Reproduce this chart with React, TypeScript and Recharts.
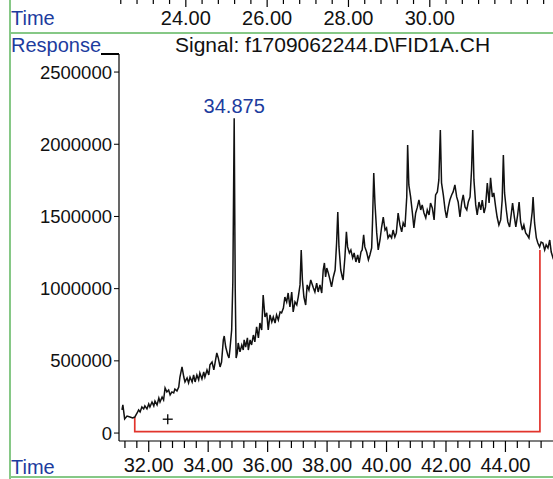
import { ComposedChart, LineChart, Line, XAxis, YAxis, ReferenceDot } from 'recharts';

// retention time (min) and detector response
const times = [
  31.10, 31.13, 31.19, 31.27, 31.37, 31.46, 31.53, 31.61, 31.66, 31.71, 31.77, 31.83, 31.87, 31.94,
  32.00, 32.04, 32.11, 32.17, 32.21, 32.28, 32.34, 32.38, 32.45, 32.50, 32.55, 32.61, 32.67, 32.72,
  32.78, 32.84, 32.88, 32.95, 33.01, 33.05, 33.12, 33.18, 33.22, 33.29, 33.34, 33.39, 33.46, 33.51,
  33.56, 33.62, 33.68, 33.72, 33.79, 33.85, 33.89, 33.96, 34.02, 34.06, 34.13, 34.19, 34.23, 34.29,
  34.34, 34.40, 34.45, 34.51, 34.54, 34.59, 34.66, 34.70, 34.73, 34.79, 34.83, 34.875, 34.91, 34.94,
  34.98, 35.01, 35.07, 35.13, 35.18, 35.21, 35.26, 35.32, 35.35, 35.41, 35.46, 35.52, 35.57, 35.63,
  35.69, 35.74, 35.80, 35.85, 35.91, 35.97, 36.02, 36.08, 36.14, 36.19, 36.25, 36.30, 36.36, 36.42,
  36.47, 36.53, 36.58, 36.64, 36.69, 36.75, 36.81, 36.86, 36.92, 36.98, 37.03, 37.09, 37.13, 37.17,
  37.22, 37.28, 37.33, 37.39, 37.45, 37.54, 37.59, 37.65, 37.70, 37.76, 37.82, 37.87, 37.91, 37.95,
  37.99, 38.04, 38.10, 38.15, 38.21, 38.27, 38.32, 38.36, 38.40, 38.46, 38.51, 38.54, 38.60, 38.65,
  38.69, 38.75, 38.80, 38.86, 38.91, 38.97, 39.03, 39.08, 39.14, 39.18, 39.23, 39.27, 39.33, 39.39,
  39.44, 39.50, 39.53, 39.57, 39.61, 39.67, 39.72, 39.78, 39.83, 39.89, 39.95, 40.00, 40.05, 40.11,
  40.17, 40.22, 40.28, 40.33, 40.39, 40.45, 40.51, 40.56, 40.62, 40.68, 40.71, 40.75, 40.81, 40.87,
  40.92, 40.98, 41.03, 41.09, 41.15, 41.20, 41.26, 41.32, 41.37, 41.43, 41.48, 41.54, 41.60, 41.65,
  41.71, 41.76, 41.81, 41.85, 41.91, 41.97, 42.02, 42.08, 42.13, 42.19, 42.24, 42.30, 42.36, 42.41,
  42.47, 42.53, 42.58, 42.64, 42.70, 42.75, 42.81, 42.86, 42.90, 42.94, 43.00, 43.05, 43.11, 43.17,
  43.22, 43.28, 43.33, 43.39, 43.45, 43.50, 43.56, 43.61, 43.67, 43.72, 43.78, 43.84, 43.89, 43.93,
  43.97, 44.03, 44.08, 44.14, 44.20, 44.24, 44.30, 44.35, 44.41, 44.46, 44.51, 44.57, 44.62, 44.68,
  44.73, 44.79, 44.85, 44.90, 44.93, 44.98, 45.04, 45.09, 45.15, 45.20, 45.26, 45.32, 45.37, 45.43,
  45.49, 45.54, 45.60, 45.65,
];
const responses = [
  160000, 195000, 98000, 118000, 111000, 105000, 111000, 139000, 160000, 146000, 181000, 167000, 188000, 167000,
  202000, 181000, 215000, 188000, 222000, 195000, 243000, 215000, 250000, 229000, 312000, 285000, 298000, 264000,
  285000, 278000, 305000, 292000, 319000, 388000, 458000, 388000, 354000, 382000, 347000, 388000, 354000, 402000,
  354000, 402000, 368000, 416000, 375000, 423000, 388000, 437000, 402000, 472000, 492000, 437000, 485000, 555000,
  520000, 458000, 492000, 645000, 672000, 596000, 541000, 520000, 575000, 714000, 1050000, 2180000, 1000000, 520000,
  555000, 624000, 562000, 610000, 575000, 645000, 596000, 659000, 575000, 645000, 610000, 679000, 631000, 735000,
  659000, 762000, 714000, 956000, 804000, 832000, 714000, 818000, 769000, 804000, 762000, 818000, 783000, 839000,
  832000, 866000, 942000, 908000, 970000, 873000, 977000, 839000, 908000, 887000, 942000, 1026000, 1268000, 1060000,
  942000, 887000, 1026000, 991000, 1060000, 1005000, 977000, 1039000, 977000, 1026000, 970000, 1129000, 1178000, 1081000,
  1143000, 1109000, 1060000, 1012000, 1081000, 1129000, 1316000, 1531000, 1289000, 1129000, 1081000, 1060000, 1219000, 1393000,
  1289000, 1247000, 1268000, 1213000, 1247000, 1185000, 1233000, 1178000, 1254000, 1268000, 1372000, 1289000, 1254000, 1199000,
  1233000, 1282000, 1476000, 1801000, 1593000, 1386000, 1268000, 1337000, 1420000, 1496000, 1406000, 1420000, 1351000, 1372000,
  1351000, 1406000, 1358000, 1386000, 1524000, 1441000, 1393000, 1455000, 1427000, 1635000, 1995000, 1718000, 1635000, 1524000,
  1420000, 1524000, 1559000, 1614000, 1545000, 1580000, 1524000, 1490000, 1545000, 1510000, 1593000, 1559000, 1476000, 1649000,
  1670000, 1753000, 2099000, 1732000, 1649000, 1545000, 1490000, 1566000, 1614000, 1649000, 1670000, 1718000, 1635000, 1600000,
  1496000, 1600000, 1649000, 1566000, 1545000, 1600000, 1635000, 1822000, 2099000, 1753000, 1580000, 1510000, 1600000, 1545000,
  1614000, 1524000, 1566000, 1732000, 1593000, 1767000, 1635000, 1663000, 1566000, 1496000, 1441000, 1476000, 1614000, 1926000,
  1663000, 1545000, 1462000, 1427000, 1524000, 1593000, 1496000, 1427000, 1510000, 1600000, 1462000, 1406000, 1441000, 1386000,
  1372000, 1351000, 1441000, 1531000, 1635000, 1455000, 1351000, 1316000, 1289000, 1323000, 1316000, 1268000, 1303000, 1282000,
  1337000, 1254000, 1213000, 1230000,
];

// integration baseline (red)
const baselineTimes = [31.53, 31.53, 45.16, 45.16];
const baselineResponses = [111000, 10000, 10000, 1268000];

const peakTime = 34.875;
const peakResponse = 2180000;
const peakLabel = '34.875';
const markerTime = 32.64;
const markerResponse = 96000;

const yTicks = [0, 500000, 1000000, 1500000, 2000000, 2500000];
const xMajorTicks = [32, 34, 36, 38, 40, 42, 44];
const xTicks = [
  31.2, 31.6, 32, 32.4, 32.8, 33.2, 33.6, 34, 34.4, 34.8, 35.2, 35.6, 36, 36.4, 36.8, 37.2, 37.6, 38,
  38.4, 38.8, 39.2, 39.6, 40, 40.4, 40.8, 41.2, 41.6, 42, 42.4, 42.8, 43.2, 43.6, 44, 44.4, 44.8, 45.2,
];
// the panel above (cut off)
const topMajorTicks = [24, 26, 28, 30];
const topTicks = [
  22.4, 22.8, 23.2, 23.6, 24, 24.4, 24.8, 25.2, 25.6, 26, 26.4, 26.8, 27.2, 27.6, 28, 28.4, 28.8,
  29.2, 29.6, 30, 30.4, 30.8, 31.2, 31.6, 32, 32.4, 32.8,
];

const signal = times.map((t, i) => ({ time: t, response: responses[i] }));
const baseline = baselineTimes.map((t, i) => ({ time: t, response: baselineResponses[i] }));

const FONT = '"Liberation Sans", Arial, sans-serif';
const BLUE = '#1d3c9e';
const GREEN = '#86c886';

const isMajor = (list: number[], v: number) => list.some(m => Math.abs(m - v) < 1e-6);

const BottomTick = (props: any) => {
  const { x, y, payload } = props;
  const major = isMajor(xMajorTicks, payload.value);
  return (
    <g>
      <line x1={x} x2={x} y1={y} y2={y + (major ? 11 : 7)} stroke="#000" strokeWidth={1.2} />
      {major && (
        <text x={x} y={y + 31} textAnchor="middle" fontSize={20} fill="#111" fontFamily={FONT}>
          {payload.value.toFixed(2)}
        </text>
      )}
    </g>
  );
};

const TopTick = (props: any) => {
  const { x, y, payload } = props;
  const major = isMajor(topMajorTicks, payload.value);
  return (
    <g>
      <line x1={x} x2={x} y1={y} y2={y + (major ? 7 : 4)} stroke="#000" strokeWidth={1.2} />
      {major && (
        <text x={x} y={y + 25} textAnchor="middle" fontSize={20} fill="#111" fontFamily={FONT}>
          {payload.value.toFixed(2)}
        </text>
      )}
    </g>
  );
};

const Plus = (props: any) => {
  const { cx, cy } = props;
  return (
    <g stroke="#000" strokeWidth={1.3}>
      <line x1={cx - 5} x2={cx + 5} y1={cy} y2={cy} />
      <line x1={cx} x2={cx} y1={cy - 5} y2={cy + 5} />
    </g>
  );
};

const label = (text: string, left: number, top: number, size: number, color: string) => (
  <div
    style={{
      position: 'absolute', left, top, fontSize: size, lineHeight: `${size}px`,
      color, fontFamily: FONT, whiteSpace: 'nowrap',
    }}
  >
    {text}
  </div>
);

export default function App() {
  return (
    <div style={{ position: 'absolute', left: 0, top: 0, width: 553, height: 479, overflow: 'hidden', background: '#fff' }}>
      {/* axis of the panel above, only its bottom edge shows */}
      <div style={{ position: 'absolute', left: 0, top: -20 }}>
        <LineChart width={553} height={60} data={[]} margin={{ top: 0, right: 0, bottom: 0, left: 0 }}>
          <XAxis
            xAxisId="top"
            type="number"
            dataKey="time"
            domain={[19.43, 33.03]}
            allowDataOverflow
            ticks={topTicks}
            interval={0}
            height={40}
            axisLine={false}
            tickLine={false}
            tickSize={0}
            tickMargin={0}
            tick={<TopTick />}
          />
        </LineChart>
      </div>

      <div style={{ position: 'absolute', left: 0, top: 0 }}>
        <ComposedChart width={553} height={479} data={signal} margin={{ top: 54, right: 0, bottom: 0, left: 0 }}>
          <XAxis
            type="number"
            dataKey="time"
            domain={[31, 45.6]}
            allowDataOverflow
            ticks={xTicks}
            interval={0}
            height={38}
            axisLine={{ stroke: '#000', strokeWidth: 1.2 }}
            tickLine={false}
            tickSize={0}
            tickMargin={0}
            tick={<BottomTick />}
          />
          <YAxis
            type="number"
            domain={[-55000, 2625000]}
            allowDataOverflow
            ticks={yTicks}
            interval={0}
            width={119}
            axisLine={{ stroke: '#000', strokeWidth: 1.2 }}
            tickLine={{ stroke: '#000' }}
            tickSize={5}
            tickMargin={2}
            tick={{ fontSize: 18.5, fill: '#111', fontFamily: FONT }}
          />
          <Line
            data={baseline}
            dataKey="response"
            type="linear"
            stroke="#e2342c"
            strokeWidth={1.7}
            dot={false}
            isAnimationActive={false}
          />
          <Line
            dataKey="response"
            type="linear"
            stroke="#111"
            strokeWidth={1.5}
            dot={false}
            isAnimationActive={false}
          />
          <ReferenceDot x={markerTime} y={markerResponse} r={5} shape={<Plus />} />
          <ReferenceDot
            x={peakTime}
            y={peakResponse}
            r={0}
            fill="none"
            stroke="none"
            label={{ value: peakLabel, position: 'top', offset: 5, fill: BLUE, fontSize: 20, fontFamily: FONT }}
          />
        </ComposedChart>
      </div>

      {label('Time', 11, 8, 20, BLUE)}
      {label('Response', 11, 35, 20, BLUE)}
      {label('Signal: f1709062244.D\\FID1A.CH', 175, 34, 21, '#111')}
      {label('Time', 11, 457, 20, BLUE)}
      <div style={{ position: 'absolute', left: 101, top: 53, width: 18, height: 1.5, background: '#000' }} />

      <div style={{ position: 'absolute', left: 9, top: 0, width: 1.5, height: 479, background: GREEN }} />
      <div style={{ position: 'absolute', left: 9, top: 32, width: 544, height: 1.5, background: GREEN }} />
      <div style={{ position: 'absolute', left: 9, top: 476, width: 544, height: 1.5, background: GREEN }} />
    </div>
  );
}
